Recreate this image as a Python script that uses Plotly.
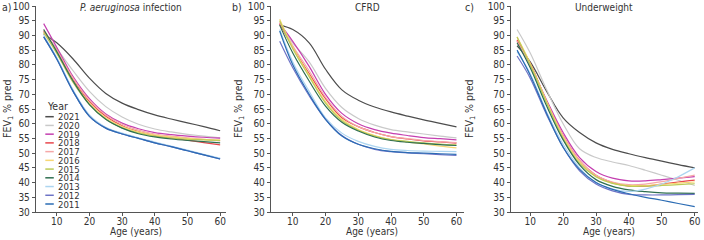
import plotly.graph_objects as go

ages = [6, 10, 15, 20, 25, 30, 35, 40, 45, 50, 55, 60]
years = ["2021", "2020", "2019", "2018", "2017", "2016", "2015", "2014", "2013", "2012", "2011"]
colors = ["#4d4d4d", "#c9c9c9", "#c43fb0", "#e8474d", "#f5a8a8", "#f7d774",
          "#bccb57", "#2f6f50", "#acd5f0", "#6d73c6", "#2b6cb4"]

# Panel a: P. aeruginosa infection
a_2021 = [90.5, 87.5, 82, 75.5, 70.3, 67, 64.8, 63, 61.6, 60.3, 59, 57.6]
a_2020 = [91, 85.5, 78, 71, 65.8, 62.3, 59.8, 58.2, 57.2, 56.4, 55.8, 55.2]
a_2019 = [94, 86, 76, 68.5, 63.3, 60.2, 58.3, 57, 56.3, 55.8, 55.4, 55.1]
a_2018 = [91.5, 85, 75, 67.5, 62.5, 59.3, 57.3, 56, 55.1, 54.4, 53.6, 52.8]
a_2017 = [92, 85, 75.5, 68, 63, 59.8, 57.8, 56.5, 55.8, 55.2, 54.7, 54.2]
a_2016 = [91, 84, 74.5, 67, 62, 59, 57.2, 56.1, 55.5, 55, 54.7, 54.5]
a_2015 = [91, 84, 74, 66.5, 61.5, 58.6, 56.8, 55.8, 55.1, 54.7, 54.5, 54.3]
a_2014 = [92, 84.5, 74.5, 66.5, 61.5, 58.5, 56.6, 55.5, 54.8, 54.3, 53.9, 53.5]
a_2013 = [90, 82.5, 71.5, 63, 58.8, 56.8, 55.2, 53.8, 52.4, 51, 49.6, 48.3]
a_2012 = [89.5, 82, 71, 62.5, 58.5, 56.5, 55, 53.5, 52.2, 50.8, 49.4, 48]
a_2011 = [89.5, 82, 71, 62.5, 58.5, 56.5, 55, 53.5, 52.2, 50.8, 49.4, 48]

# Panel b: CFRD
b_2021 = [93.5, 92, 87.5, 78.5, 71.5, 68, 65.7, 64, 62.6, 61.3, 60.1, 58.9]
b_2020 = [94, 87.5, 81, 72, 65.5, 61.8, 59.5, 58, 57.2, 56.5, 55.8, 55.2]
b_2019 = [94, 88, 79.5, 70, 63.5, 60, 58, 56.8, 56, 55.3, 54.9, 54.5]
b_2018 = [94, 86, 77, 68.5, 62, 59, 57, 55.6, 54.8, 54.2, 53.8, 53.4]
b_2017 = [94.5, 86.5, 78, 69, 62.5, 59, 57, 55.6, 54.9, 54.3, 53.9, 53.6]
b_2016 = [95.5, 86, 76.5, 67.5, 61.5, 58, 56, 54.6, 53.8, 53.1, 52.4, 51.8]
b_2015 = [95, 85.5, 76, 67, 61, 57.8, 55.8, 54.6, 54, 53.5, 53.1, 52.8]
b_2014 = [93.5, 84, 74.5, 66, 60.5, 57.5, 55.5, 54.3, 53.7, 53.3, 52.9, 52.6]
b_2013 = [92, 81, 71, 62, 56.8, 54, 52.3, 51.3, 50.9, 50.7, 50.6, 50.5]
b_2012 = [88, 79, 69.5, 61.5, 56, 53, 51.3, 50.5, 50.1, 49.8, 49.5, 49.2]
b_2011 = [91.5, 80, 70, 61.5, 55.8, 53, 51.5, 50.6, 50.2, 50, 49.8, 49.6]

# Panel c: Underweight
c_2021 = [86.5, 81, 71, 62, 57, 53.5, 51.3, 49.8, 48.5, 47.3, 46.1, 45]
c_2020 = [92, 84, 71.5, 60, 51.5, 48.5, 47, 45.8, 44.2, 42.5, 40.8, 39]
c_2019 = [88, 80, 68, 57, 48.5, 43.8, 41.5, 40.6, 40.6, 41, 41.5, 42]
c_2018 = [88.5, 80.5, 67.5, 56, 47.5, 42.5, 40, 38.8, 38.8, 39.5, 40.2, 40.8]
c_2017 = [88, 80, 67.5, 56, 47.5, 42.5, 40.2, 39.3, 39.5, 40.3, 41.4, 42.5]
c_2016 = [89.5, 80.5, 67.5, 55.5, 47, 42, 39.8, 39, 39, 39.4, 39.8, 40.2]
c_2015 = [89.5, 80, 67, 55, 46.5, 42, 39.7, 38.8, 38.8, 39, 39.3, 39.6]
c_2014 = [87.5, 79, 66, 54.5, 46, 41, 38.7, 37.5, 36.9, 36.5, 36.4, 36.3]
c_2013 = [84.5, 77, 64, 53, 45, 40, 37.8, 37, 37.8, 39.5, 42, 45]
c_2012 = [83, 75.5, 63, 52, 44, 39.5, 37.2, 36, 35.8, 35.8, 35.9, 36]
c_2011 = [85, 76.5, 63.5, 52, 44.5, 40, 37.7, 36.2, 35, 34, 32.9, 31.8]

panel_a = [a_2021, a_2020, a_2019, a_2018, a_2017, a_2016, a_2015, a_2014, a_2013, a_2012, a_2011]
panel_b = [b_2021, b_2020, b_2019, b_2018, b_2017, b_2016, b_2015, b_2014, b_2013, b_2012, b_2011]
panel_c = [c_2021, c_2020, c_2019, c_2018, c_2017, c_2016, c_2015, c_2014, c_2013, c_2012, c_2011]

panel_titles = ["<i>P. aeruginosa</i> infection", "CFRD", "Underweight"]
panel_letters = ["a)", "b)", "c)"]
x_title = "Age (years)"
y_title = "FEV<sub>1</sub> % pred"
x_ticks = [10, 20, 30, 40, 50, 60]
y_ticks = [30, 35, 40, 45, 50, 55, 60, 65, 70, 75, 80, 85, 90, 95, 100]

W, H = 704, 240
FONT = "DejaVu Sans Condensed, Lato, sans-serif"
TXT = "#333333"
PT, PB = 6, 212  # plot area top / bottom in px

fig = go.Figure()

domains_px = [(36, 227), (272, 466), (513, 701)]
xranges = [[3.6, 61.8], [3.3, 62.3], [4.1, 61.0]]
ytitle_x = [8, 240, 472]
letter_x = [0, 231, 465]

for p, data in enumerate([panel_a, panel_b, panel_c]):
    xa = "x" if p == 0 else f"x{p+1}"
    ya = "y" if p == 0 else f"y{p+1}"
    for yr, col, vals in zip(years, colors, data):
        fig.add_trace(go.Scatter(
            x=ages, y=vals, mode="lines", name=yr,
            line=dict(color=col, width=1.2, shape="spline", smoothing=1.0),
            xaxis=xa, yaxis=ya, showlegend=False, hoverinfo="skip"))

axis_common = dict(showgrid=False, zeroline=False, showline=True, linecolor="#555555",
                   linewidth=1, ticks="outside", ticklen=3, tickcolor="#555555",
                   ticklabeloverflow="allow",
                   tickfont=dict(family=FONT, size=10, color=TXT))

layout = dict(
    width=W, height=H,
    margin=dict(l=0, r=0, t=PT, b=H - PB),
    paper_bgcolor="white", plot_bgcolor="white",
    font=dict(family=FONT, size=10, color=TXT),
    showlegend=False,
)

for p in range(3):
    sfx = "" if p == 0 else str(p + 1)
    x0, x1 = domains_px[p]
    layout[f"xaxis{sfx}"] = dict(axis_common, domain=[x0 / W, x1 / W], range=xranges[p],
                                 tickvals=x_ticks, anchor=f"y{sfx}", ticklabelstandoff=-3)
    layout[f"yaxis{sfx}"] = dict(axis_common, domain=[0, 1], range=[30, 100],
                                 tickvals=y_ticks, anchor=f"x{sfx}")

fig.update_layout(**layout)

plot_h = PB - PT


def py2paper(py):
    return (PB - py) / plot_h


annotations = []
for p in range(3):
    x0, x1 = domains_px[p]
    annotations.append(dict(text=panel_titles[p], x=(x0 + x1) / 2 / W, y=py2paper(7),
                            xref="paper", yref="paper", xanchor="center", yanchor="middle",
                            showarrow=False, font=dict(family=FONT, size=10, color=TXT)))
    annotations.append(dict(text=panel_letters[p], x=letter_x[p] / W, y=py2paper(7),
                            xref="paper", yref="paper", xanchor="left", yanchor="middle",
                            showarrow=False, font=dict(family=FONT, size=10.5, color=TXT)))
    annotations.append(dict(text=x_title, x=(x0 + x1 + 10) / 2 / W, y=py2paper(231.5),
                            xref="paper", yref="paper", xanchor="center", yanchor="middle",
                            showarrow=False, font=dict(family=FONT, size=10, color=TXT)))
    annotations.append(dict(text=y_title, x=ytitle_x[p] / W, y=py2paper(108),
                            xref="paper", yref="paper", xanchor="center", yanchor="middle",
                            textangle=-90, showarrow=False,
                            font=dict(family=FONT, size=10.5, color=TXT)))

# legend (panel a), drawn manually for tight spacing
annotations.append(dict(text="Year", x=45 / W, y=py2paper(106), xref="paper", yref="paper",
                        xanchor="left", yanchor="middle", showarrow=False,
                        font=dict(family=FONT, size=10.5, color=TXT)))
shapes = []
for i, (yr, col) in enumerate(zip(years, colors)):
    py = 116.7 + i * 8.73
    shapes.append(dict(type="line", xref="paper", yref="paper",
                       x0=45.5 / W, x1=54 / W, y0=py2paper(py), y1=py2paper(py),
                       line=dict(color=col, width=1.5)))
    annotations.append(dict(text=yr, x=56.5 / W, y=py2paper(py), xref="paper", yref="paper",
                            xanchor="left", yanchor="middle", showarrow=False,
                            font=dict(family=FONT, size=9.5, color=TXT)))

fig.update_layout(annotations=annotations, shapes=shapes)
fig.write_html("out.html", config={"displayModeBar": False},
               post_script="document.body.style.margin='0';")
